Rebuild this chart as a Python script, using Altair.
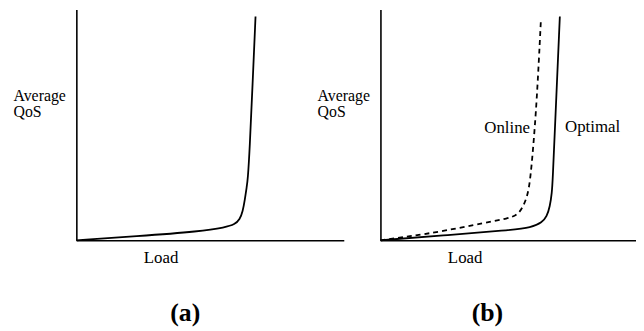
import altair as alt
import pandas as pd

# Panel (a): single (optimal) curve, load vs average QoS (arbitrary 0-100 units)
a_load = [0, 22.2, 46.7, 55.6, 59.3, 61.1, 62.2, 63.0, 63.7, 64.1, 64.8, 65.9, 67.0]
a_qos = [0, 1.7, 3.9, 5.6, 6.9, 9.0, 12.4, 17.6, 23.2, 26.2, 39.1, 67.8, 97.0]

# Panel (b): optimal (solid) and online (dashed)
b_opt_load = [0, 24.4, 50.0, 59.3, 63.2, 65.1, 66.3, 67.1, 67.4, 68.2, 70.2]
b_opt_qos = [0, 2.1, 4.3, 5.6, 7.7, 10.3, 14.6, 20.6, 26.2, 46.4, 97.0]
b_onl_load = [0, 11.2, 24.4, 41.1, 50.0, 53.9, 55.8, 57.4, 58.5, 59.7, 61.2, 62.8]
b_onl_qos = [0, 1.7, 3.9, 7.7, 9.4, 11.2, 14.6, 18.9, 24.9, 39.1, 60.5, 95.7]

# Curve labels in panel (b)
lab_text = ["Online", "Optimal"]
lab_load = [49.6, 83.0]
lab_qos = [48.5, 48.9]

FONT = "Liberation Serif, Times New Roman, serif"
FS = 17

xscale = alt.Scale(domain=[0, 100], nice=False, zero=False)
yscale = alt.Scale(domain=[0, 100], nice=False, zero=False)


def xaxis():
    return alt.Axis(labels=False, ticks=False, grid=False, domainColor="black",
                    domainWidth=1.6, title="Load", titleFont=FONT, titleFontSize=FS,
                    titleFontWeight="normal", titleColor="black", titleX=85,
                    titleY=22, titleAlign="center", titleBaseline="alphabetic")


def yaxis():
    return alt.Axis(labels=False, ticks=False, grid=False, domainColor="black",
                    domainWidth=1.6, title=["Average", "QoS"], titleFont=FONT,
                    titleFontSize=16, titleFontWeight="normal", titleColor="black",
                    titleAngle=0, titleAlign="left", titleBaseline="alphabetic",
                    titleX=-64, titleY=92, titleLineHeight=16)


da = pd.DataFrame({"load": a_load, "qos": a_qos})
dbo = pd.DataFrame({"load": b_opt_load, "qos": b_opt_qos})
dbn = pd.DataFrame({"load": b_onl_load, "qos": b_onl_qos})
dl = pd.DataFrame({"text": lab_text, "load": lab_load, "qos": lab_qos})

panel_a = alt.Chart(da).mark_line(color="black", strokeWidth=1.8, interpolate="basis").encode(
    x=alt.X("load:Q", scale=xscale, axis=xaxis()),
    y=alt.Y("qos:Q", scale=yscale, axis=yaxis()),
).properties(
    width=270, height=233,
    title=alt.Title("(a)", orient="bottom", font=FONT, fontSize=26, fontWeight="bold",
                    color="black", dx=-25, offset=35, anchor="middle"),
)

b_opt = alt.Chart(dbo).mark_line(color="black", strokeWidth=1.8, interpolate="basis").encode(
    x=alt.X("load:Q", scale=xscale, axis=xaxis()),
    y=alt.Y("qos:Q", scale=yscale, axis=yaxis()),
)
b_onl = alt.Chart(dbn).mark_line(color="black", strokeWidth=1.8, strokeDash=[5, 4],
                                 interpolate="basis").encode(
    x="load:Q", y="qos:Q")
b_lab = alt.Chart(dl).mark_text(font=FONT, fontSize=FS, color="black", baseline="middle").encode(
    x="load:Q", y="qos:Q", text="text:N")

panel_b = alt.layer(b_opt, b_onl, b_lab).properties(
    width=258, height=233,
    title=alt.Title("(b)", orient="bottom", font=FONT, fontSize=26, fontWeight="bold",
                    color="black", dx=-21, offset=35, anchor="middle"),
)

chart = alt.hconcat(panel_a, panel_b, spacing=37, bounds="flush").properties(
    padding={"left": 5, "top": 0, "right": 0, "bottom": 0}
).configure_view(stroke=None).configure_title(baseline="top")

chart.save("out.html", embed_options={"renderer": "svg", "actions": False})
